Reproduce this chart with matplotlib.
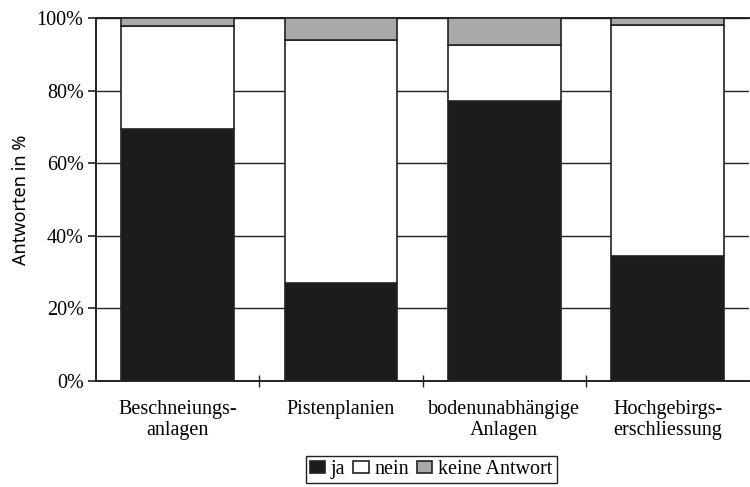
import numpy as np
import matplotlib.pyplot as plt
from matplotlib.ticker import PercentFormatter

plt.rcParams['font.family'] = ['Liberation Serif', 'DejaVu Serif']

# Daten (Anteile in %)
kategorien = ['Beschneiungs-\nanlagen', 'Pistenplanien',
              'bodenunabhängige\nAnlagen', 'Hochgebirgs-\nerschliessung']
ja = [69.4, 27.0, 77.2, 34.4]
nein = [28.4, 67.0, 15.3, 63.6]
keine_antwort = [2.2, 6.0, 7.5, 2.0]

x = np.arange(len(kategorien))
ja = np.array(ja)
nein = np.array(nein)
keine_antwort = np.array(keine_antwort)

fig = plt.figure(figsize=(7.5, 4.87), dpi=100)
ax = fig.add_axes([0.128, 0.218, 0.871, 0.745])

breite = 0.69
ax.bar(x, ja, breite, color='#1c1c1c', edgecolor='#222222', linewidth=1.2,
       label='ja', zorder=3)
ax.bar(x, nein, breite, bottom=ja, color='white', edgecolor='#222222',
       linewidth=1.2, label='nein', zorder=3)
ax.bar(x, keine_antwort, breite, bottom=ja + nein, color='#a9a9a9',
       edgecolor='#222222', linewidth=1.2, label='keine Antwort', zorder=3)

ax.set_xlim(-0.5, len(kategorien) - 0.5)
ax.set_ylim(0, 100)
ax.set_yticks([0, 20, 40, 60, 80, 100])
ax.yaxis.set_major_formatter(PercentFormatter(decimals=0))
ax.grid(axis='y', color='#222222', linewidth=1.0, zorder=1)

# Kategorien-Beschriftung mittig, Teilstriche zwischen den Balken
ax.set_xticks(x)
ax.set_xticklabels(kategorien, fontsize=14.5, linespacing=1.15)
ax.tick_params(axis='x', length=0, pad=14)
ax.set_xticks(np.arange(0.5, len(kategorien) - 0.5, 1), minor=True)
ax.tick_params(axis='x', which='minor', direction='inout', length=8,
               width=1.0, color='#222222')
ax.tick_params(axis='y', direction='out', length=6, width=1.2,
               color='#222222', labelsize=14.5, pad=3)

for s in ax.spines.values():
    s.set_color('#222222')
    s.set_linewidth(1.4)
ax.spines['right'].set_visible(False)

ax.set_ylabel('Antworten in %', fontsize=13, family=['Noto Sans', 'DejaVu Sans'],
              labelpad=5)

fig.legend(loc='center', bbox_to_anchor=(0.575, 0.035), ncol=3, fontsize=14.5,
           frameon=True, fancybox=False, edgecolor='#222222',
           handlelength=0.75, handleheight=0.55, handletextpad=0.3,
           columnspacing=0.4, borderpad=0.2, framealpha=1)

fig.savefig('out.png', dpi=100)
